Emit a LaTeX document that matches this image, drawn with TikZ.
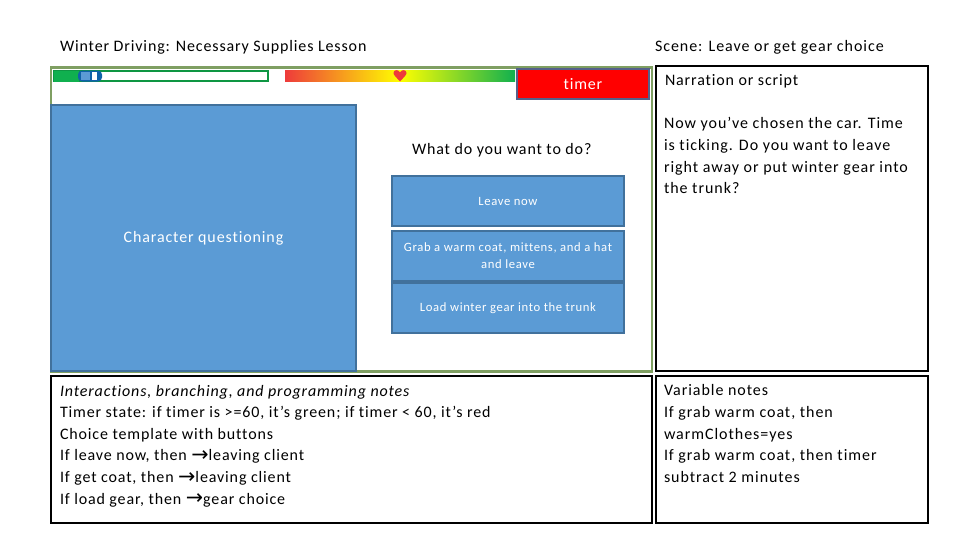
\documentclass[tikz,border=0pt]{standalone}
\usepackage{amsmath}
\usepackage{fontspec}
\setmainfont{Carlito}[Ligatures=NoCommon]
\newfontfamily\arrowfont{DejaVu Sans}
\newcommand{\thenarrow}{\raisebox{-0.6pt}{\arrowfont\fontsize{15.5}{16.2}\selectfont →}}
\definecolor{panelblue}{HTML}{5B9BD5}
\definecolor{edgeblue}{HTML}{41719C}
\definecolor{framegreen}{HTML}{7F9F62}
\definecolor{barred}{HTML}{EE3B3B}
\definecolor{bargreen}{HTML}{10B04F}
\definecolor{knobblue}{HTML}{0F62A8}
\definecolor{timeredge}{HTML}{55608A}
\tikzset{
	px/.style={x=0.75pt,y=-0.75pt},
	every node/.style={outer sep=0pt},
	plain/.style={inner sep=0pt,font=\fontsize{12}{16.2}\selectfont\addfontfeatures{LetterSpace=6},align=left},
	tight/.style={plain,font=\fontsize{12}{16.2}\selectfont\addfontfeatures{LetterSpace=5.4}},
	panel/.style={draw=black,line width=1.4pt,anchor=north west,inner sep=0pt},
	bluebox/.style={draw=edgeblue,line width=1.1pt,fill=panelblue,anchor=north west,inner sep=0pt,text=white,align=center,font=\fontsize{9.5}{12.6}\selectfont\addfontfeatures{LetterSpace=5}},
}
\begin{document}
\begin{tikzpicture}[px]
	\useasboundingbox (0,0) rectangle (960,540);
	\node[tight,anchor=west] (title) at (60,47) {Winter Driving: Necessary Supplies Lesson};
	\node[plain,anchor=west] (scene) at (655,47) {Scene: Leave or get gear choice};
	% slide area
	\node[draw=framegreen,line width=1.6pt,anchor=north west,inner sep=0pt,minimum width=601*0.75pt,minimum height=304*0.75pt] (slide) at (51,67.5) {};
	% progress bar
	\node[draw=bargreen!85!black,line width=1.1pt,fill=white,anchor=north west,inner sep=0pt,minimum width=214*0.75pt,minimum height=10*0.75pt] (progress) at (54,71) {};
	\node[fill=bargreen,anchor=north west,inner sep=0pt,minimum width=25*0.75pt,minimum height=11*0.75pt] (progressfill) at (54,70.5) {};
	\node[fill=knobblue,rounded corners=3pt,anchor=north west,inner sep=0pt,minimum width=24*0.75pt,minimum height=11*0.75pt] (knob) at (78,70.5) {};
	\node[fill=white,anchor=north west,inner sep=0pt,minimum width=5*0.75pt,minimum height=8*0.75pt] (knobgap) at (92,72) {};
	\node[fill=panelblue,anchor=north west,inner sep=0pt,minimum width=9*0.75pt,minimum height=8*0.75pt] (knobinner) at (81,72) {};
	% health bar
	\shade[left color=barred,right color=bargreen,middle color=yellow] (285,70) rectangle (515,81);
	\fill[barred] (400,81.5) .. controls (396,77) and (393.5,75) .. (393.5,73) .. controls (393.5,69.5) and (398.5,69) .. (400,72.5) .. controls (401.5,69) and (406.5,69.5) .. (406.5,73) .. controls (406.5,75) and (404,77) .. (400,81.5);
	\node[draw=timeredge,line width=1.3pt,fill=red,text=white,anchor=north west,inner sep=0pt,minimum width=132*0.75pt,minimum height=30*0.75pt,font=\fontsize{12}{14}\selectfont\addfontfeatures{LetterSpace=5}] (timer) at (517,69) {timer};
	% character
	\node[bluebox,minimum width=305*0.75pt,minimum height=266*0.75pt,font=\fontsize{12}{14}\selectfont\addfontfeatures{LetterSpace=5.5}] (character) at (51,105) {Character questioning};
	\node[tight,anchor=west] (question) at (412,150) {What do you want to do?};
	% choices
	\node[bluebox,minimum width=232*0.75pt,minimum height=50*0.75pt] (leave) at (392,176) {Leave now};
	\node[bluebox,minimum width=232*0.75pt,minimum height=50*0.75pt] (grab) at (392,231) {Grab a warm coat, mittens, and a hat\\and leave};
	\node[bluebox,minimum width=232*0.75pt,minimum height=50*0.75pt] (load) at (392,283) {Load winter gear into the trunk};
	% side panels
	\node[panel,minimum width=272*0.75pt,minimum height=305*0.75pt] (script) at (656,66) {};
	\node[tight,anchor=west] (scripthead) at (665,81) {Narration or script};
	\node[plain,anchor=north west] (scripttext) at (664,117.7) {Now you've chosen the car. Time\\is ticking. Do you want to leave\\right away or put winter gear into\\the trunk?};
	\node[panel,minimum width=601*0.75pt,minimum height=147*0.75pt] (notes) at (51,376) {};
	\node[tight,anchor=north west] (notestext) at (60,385) {\textit{Interactions, branching, and programming notes}\\Timer state: if timer is >=60, it's green; if timer < 60, it's red\\Choice template with buttons\\If leave now, then \thenarrow leaving client\\If get coat, then \thenarrow leaving client\\If load gear, then \thenarrow gear choice};
	\node[panel,minimum width=272*0.75pt,minimum height=147*0.75pt] (variables) at (656,376) {};
	\node[plain,anchor=north west] (variablestext) at (664,384.7) {Variable notes\\If grab warm coat, then\\warmClothes=yes\\If grab warm coat, then timer\\subtract 2 minutes};
\end{tikzpicture}
\end{document}
